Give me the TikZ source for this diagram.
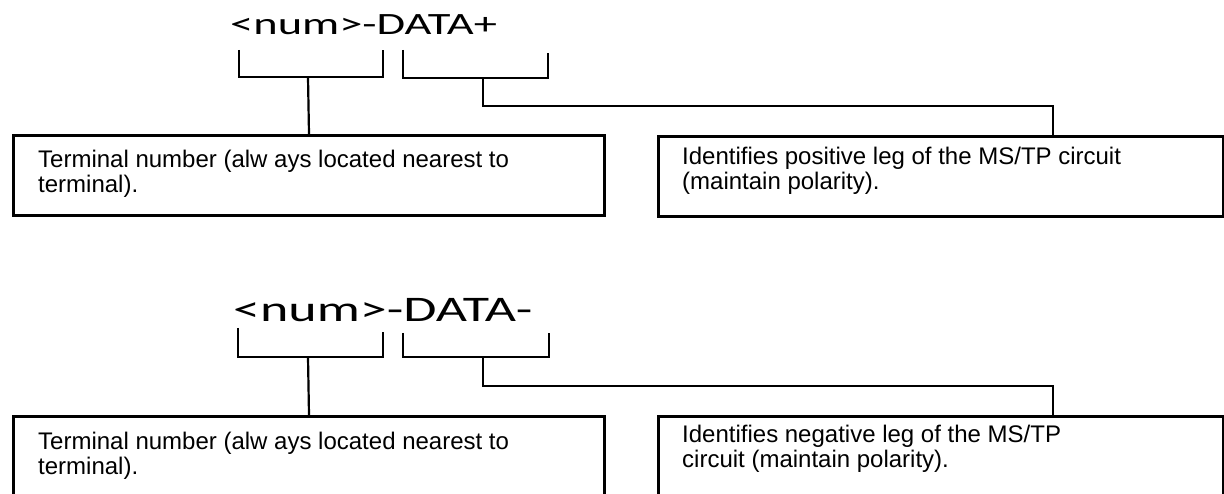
\documentclass[tikz,border=0pt]{standalone}
\usepackage{fontspec}
\setmainfont{Liberation Sans}
\newfontfamily\titlefont[FakeStretch=1.5]{Carlito}
\tikzset{
  box/.style={draw, line width=3pt, inner sep=0pt},
  note/.style={inner sep=0pt, anchor=base west},
  wire/.style={line width=2.2pt},
  brace/.style={line width=2.6pt}
}
\newcommand{\notefont}{\fontsize{24}{25}\selectfont}
\begin{document}
\begin{tikzpicture}[x=1pt,y=-1pt]
	\useasboundingbox (0,0) rectangle (1224,494);
	\clip (0,0) rectangle (1224,494);
	% upper label: DATA+
	\node[note] (titleP) at (230,35) {\titlefont\fontsize{31}{31}\selectfont <num>-DATA+};
	\draw[brace](239,50)--(239,77)--(383,77)--(383,50);
	\draw[brace](403,50)--(403,78)--(548,78)--(548,53);
	\node[box, minimum width=591pt, minimum height=80pt, anchor=north west] (termP) at (12,134) {};
	\node[box, minimum width=565pt, minimum height=80pt, anchor=north west] (polP) at (657,135) {};
	\node[note] (termPtxt) at (38,168) {\notefont\parbox[t]{550pt}{Terminal number (alw ays located nearest to\\terminal).}};
	\node[note] (polPtxt) at (682,165) {\notefont\parbox[t]{530pt}{Identifies positive leg of the MS/TP circuit\\(maintain polarity).}};
	\draw[wire](308,77)--(termP.north);
	\draw[wire](483,78)--(483,106)--(1053,106)--(polP.north -| 1053,0);
	% lower label: DATA-
	\node[note] (titleN) at (233,322) {\titlefont\fontsize{36}{36}\selectfont <num>-DATA-};
	\draw[brace](238,328)--(238,357)--(383,357)--(383,332);
	\draw[brace](403,333)--(403,357)--(549,357)--(549,333);
	\node[box, minimum width=591pt, minimum height=100pt, anchor=north west] (termN) at (12,415) {};
	\node[box, minimum width=565pt, minimum height=100pt, anchor=north west] (polN) at (657,415) {};
	\node[note] (termNtxt) at (38,449) {\notefont\parbox[t]{550pt}{Terminal number (alw ays located nearest to\\terminal).}};
	\node[note] (polNtxt) at (682,442) {\notefont\parbox[t]{530pt}{Identifies negative leg of the MS/TP\\circuit (maintain polarity).}};
	\draw[wire](308,357)--(termN.north);
	\draw[wire](483,357)--(483,386)--(1053,386)--(polN.north -| 1053,0);
\end{tikzpicture}
\end{document}
